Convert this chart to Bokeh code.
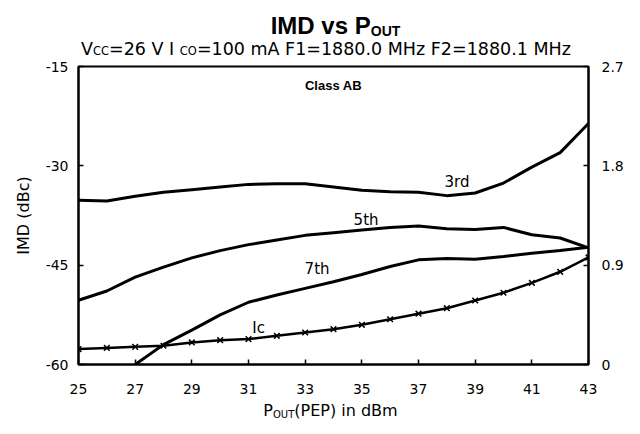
from bokeh.plotting import figure
from bokeh.models import Range1d, LinearAxis, FixedTicker, Label
from bokeh.layouts import column
from bokeh.embed import file_html
from bokeh.resources import INLINE
from bokeh.core.properties import value

# ---------------- data ----------------
p_out_dbm = [25, 26, 27, 28, 29, 30, 31, 32, 33, 34, 35, 36, 37, 38, 39, 40, 41, 42, 43]
imd_3rd = [-35.2, -35.3, -34.6, -34.0, -33.6, -33.2, -32.8, -32.7, -32.7, -33.2,
           -33.7, -33.9, -34.0, -34.5, -34.1, -32.6, -30.2, -28.0, -23.6]
imd_5th = [-50.3, -48.9, -46.8, -45.3, -43.9, -42.8, -41.9, -41.2, -40.5, -40.1,
           -39.7, -39.3, -39.1, -39.5, -39.6, -39.3, -40.4, -40.9, -42.4]
p_out_7th = [27, 28, 29, 30, 31, 32, 33, 34, 35, 36, 37, 38, 39, 40, 41, 42, 43]
imd_7th = [-60.0, -57.0, -54.8, -52.5, -50.6, -49.5, -48.5, -47.5, -46.4, -45.2,
           -44.2, -44.0, -44.1, -43.7, -43.2, -42.8, -42.3]
ic_amps = [0.14, 0.15, 0.16, 0.17, 0.20, 0.22, 0.23, 0.26, 0.29, 0.32,
           0.36, 0.41, 0.46, 0.51, 0.58, 0.65, 0.74, 0.84, 0.97]

x_ticks = [25, 27, 29, 31, 33, 35, 37, 39, 41, 43]
y_ticks = [-60, -45, -30, -15]
ic_ticks = [0, 0.9, 1.8, 2.7]

# ---------------- layout ----------------
W, H = 632, 426
HEAD_H = 57
BL, BR, BT, BB = 78, 44, 9, 36
FH = 298
MAIN_H = BT + FH + BB
FOOT_H = H - HEAD_H - MAIN_H
FX0, FX1 = BL, W - BR      # frame extent in canvas pixels

FONT = "DejaVu Sans"
TFONT = "Liberation Sans"

DJV = {' ': .318, '(': .390, ')': .390, '.': .318, '=': .838, 'A': .684, 'B': .686,
       'C': .698, 'D': .770, 'E': .632, 'F': .575, 'H': .752, 'I': .295, 'M': .863,
       'O': .787, 'P': .603, 'T': .611, 'U': .732, 'V': .684, 'c': .550, 'd': .635,
       'i': .278, 'm': .974, 'n': .634, 'z': .525, 's': .521, 'v': .592}
LSB = {' ': .278, 'I': .278, 'M': .833, 'D': .722, 'v': .556, 's': .556, 'P': .667,
       'O': .778, 'U': .722, 'T': .611}


def width(text, size, table):
    return sum(table.get(ch, .636) * size for ch in text)


def text_panel(h, top):
    # x range in canvas pixels (frames of a column are aligned with the chart frame)
    f = figure(width=W, height=h, output_backend="svg", toolbar_location=None,
               x_range=Range1d(FX0, FX1), y_range=Range1d(top + h, top),
               x_axis_type=None, y_axis_type=None, min_border=0,
               min_border_left=BL, min_border_right=BR,
               min_border_top=0, min_border_bottom=0)
    f.outline_line_color = None
    f.grid.visible = False
    f.background_fill_color = "white"
    f.border_fill_color = "white"
    return f


def sequence(f, segs, center_px, baseline_px, table, font, style):
    total = sum(width(t, s, table) for t, s, _ in segs)
    x = center_px - total / 2
    for t, s, off in segs:
        f.text(x=[x], y=[baseline_px + off], text=[t],
               text_font=value(font), text_font_size=value(f"{s}px"),
               text_font_style=style, text_align="left",
               text_baseline="alphabetic", text_color="black")
        x += width(t, s, table)


# header: title + subtitle
head = text_panel(HEAD_H, 0)
sequence(head, [("IMD vs P", 24, 0), ("OUT", 14, 5)], 335, 25, LSB, TFONT, "bold")
sequence(head, [("V", 17.5, 0), ("CC", 11.5, 2.5), ("=26 V  I", 17.5, 0), ("CO", 11.5, 2.5),
                ("=100 mA  F1=1880.0 MHz  F2=1880.1 MHz", 17.5, 0)],
         331, 48, DJV, FONT, "normal")

# main chart
p = figure(width=W, height=MAIN_H, output_backend="svg", toolbar_location=None,
           x_range=Range1d(25, 43), y_range=Range1d(-60, -15),
           min_border_left=BL, min_border_right=BR, min_border_top=BT,
           min_border_bottom=BB)
p.extra_y_ranges = {"ic": Range1d(0, 2.7)}
p.grid.visible = False
p.background_fill_color = "white"
p.border_fill_color = "white"
p.outline_line_color = "black"
p.outline_line_width = 2


def style_axis(ax, standoff):
    ax.axis_line_width = 2
    ax.axis_line_color = "black"
    ax.major_tick_in = 5
    ax.major_tick_out = 0
    ax.major_tick_line_width = 1.5
    ax.minor_tick_line_color = None
    ax.major_label_text_font = FONT
    ax.major_label_text_font_size = "14px"
    ax.major_label_text_color = "black"
    ax.major_label_standoff = standoff


p.xaxis.ticker = FixedTicker(ticks=x_ticks)
style_axis(p.xaxis[0], 19)
p.yaxis.ticker = FixedTicker(ticks=y_ticks)
p.yaxis.major_label_overrides = {t: str(t) for t in y_ticks}
style_axis(p.yaxis[0], 10)
p.yaxis.axis_label = "IMD (dBc)"
p.yaxis.axis_label_text_font = FONT
p.yaxis.axis_label_text_font_size = "16px"
p.yaxis.axis_label_text_font_style = "normal"
p.yaxis.axis_label_text_color = "black"
p.yaxis.axis_label_standoff = 10

right = LinearAxis(y_range_name="ic", ticker=FixedTicker(ticks=ic_ticks),
                   major_label_overrides={0: "0", 0.9: "0.9", 1.8: "1.8", 2.7: "2.7"})
style_axis(right, 13)
p.add_layout(right, "right")

p.line(p_out_dbm, imd_3rd, line_width=3, color="black")
p.line(p_out_dbm, imd_5th, line_width=3, color="black")
p.line(p_out_7th, imd_7th, line_width=3, color="black")
p.line(p_out_dbm, ic_amps, y_range_name="ic", line_width=2.5, color="black")
p.scatter(p_out_dbm, ic_amps, y_range_name="ic", marker="x", size=8,
          line_width=1.5, color="black")


def add_label(text, x, y, size, font=FONT, style="normal"):
    p.add_layout(Label(x=x, y=y, text=text, text_font=font,
                       text_font_size=f"{size}px", text_font_style=style,
                       text_align="center", text_baseline="middle",
                       text_color="black"))


add_label("3rd", 38.36, -32.4, 15)
add_label("5th", 35.15, -38.25, 15)
add_label("7th", 33.42, -45.65, 15)
add_label("Ic", 31.36, -54.5, 15)
add_label("Class AB", 34.0, -17.9, 13, font=TFONT, style="bold")

# footer: x-axis title
foot = text_panel(FOOT_H, HEAD_H + MAIN_H)
sequence(foot, [("P", 16, 0), ("OUT", 10, 4), ("(PEP) in dBm", 16, 0)],
         330, 410, DJV, FONT, "normal")

layout = column(head, p, foot, spacing=0)
open("out.html", "w").write(file_html(layout, INLINE))
